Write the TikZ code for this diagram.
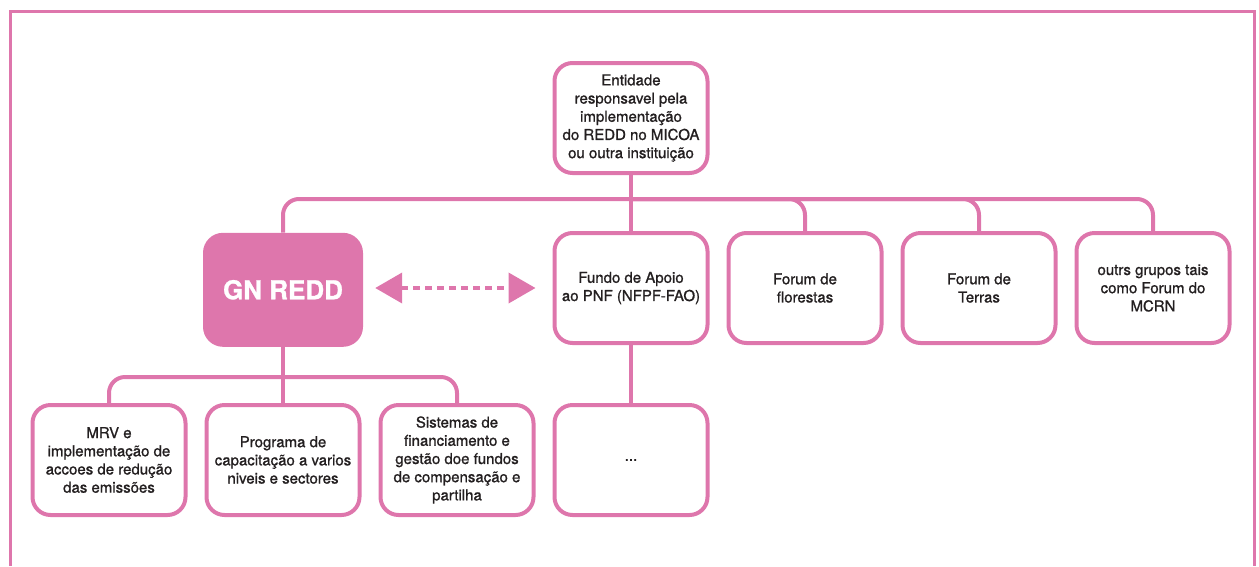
\documentclass[tikz,border=0pt]{standalone}
\usepackage{fontspec}
\setmainfont{TeX Gyre Heros}[FakeBold=1.1]
\usetikzlibrary{arrows.meta,positioning}
\definecolor{rose}{RGB}{222,118,172}
\definecolor{ink}{RGB}{35,31,32}

\begin{document}
\begin{tikzpicture}[x=1pt,y=-1pt,node distance=17pt,
                    unit/.style={draw=rose,line width=4pt,rounded corners=18pt,
                      minimum width=153pt,minimum height=110pt,inner sep=2pt,
                      align=center,text=ink,font=\fontsize{15}{18.2}\selectfont},
                    gnunit/.style={fill=rose,rounded corners=20pt,
                      minimum width=160pt,minimum height=114pt,
                      text=white,font=\fontsize{26}{30}\selectfont\bfseries},
                    link/.style={draw=rose,line width=4pt,rounded corners=16pt},
                    dotlink/.style={draw=rose,line width=4pt,dash pattern=on 7pt off 5pt,
                      {Triangle[length=27pt,width=30pt]}-{Triangle[length=27pt,width=30pt]}}]

  \useasboundingbox (0,0) rectangle (1259,566);
  \draw[rose,line width=3.5pt] (10.5,566) -- (10.5,11.5) -- (1254.5,11.5) -- (1254.5,566);

  \node[unit]        (2) at (631,288)  {Fundo de Apoio\\ao PNF (NFPF-FAO)};
  \node[unit]        (0) [above=56pt of 2] {Entidade\\responsavel pela\\implementação\\do REDD no MICOA\\ou outra instituição};
  \node[unit]        (3) [right=of 2] {Forum de\\florestas};
  \node[unit]        (4) [right=of 3] {Forum de\\Terras};
  \node[unit]        (5) [right=of 4] {outrs grupos tais\\como Forum do\\MCRN};
  \node[unit]        (9) [below=58pt of 2] {...};
  \node[unit]        (8) [left=of 9] {Sistemas de\\financiamento e\\gestão doe fundos\\de compensação e\\partilha};
  \node[unit]        (7) [left=of 8] {Programa de\\capacitação a varios\\niveis e sectores};
  \node[unit]        (6) [left=of 7] {MRV e\\implementação de\\accoes de redução\\das emissões};
  \node[gnunit]      (1) [above=56pt of 7] {GN REDD};

  \path (0.south) ++(0,24) coordinate (b);
  \path (1.south) ++(0,30) coordinate (c);

  \draw[link] (1.north) |- (b) -| (5.north);
  \draw[link] (b) -| (3.north);
  \draw[link] (b) -| (4.north);
  \draw[link] (0) -- (2);
  \draw[link] (2) -- (9);
  \draw[link] (6.north) |- (c) -| (8.north);
  \draw[link] (1) -- (7);
  \draw[dotlink,shorten <=12pt,shorten >=17pt] (1.east |- 2.west) -- (2.west);
\end{tikzpicture}
\end{document}
